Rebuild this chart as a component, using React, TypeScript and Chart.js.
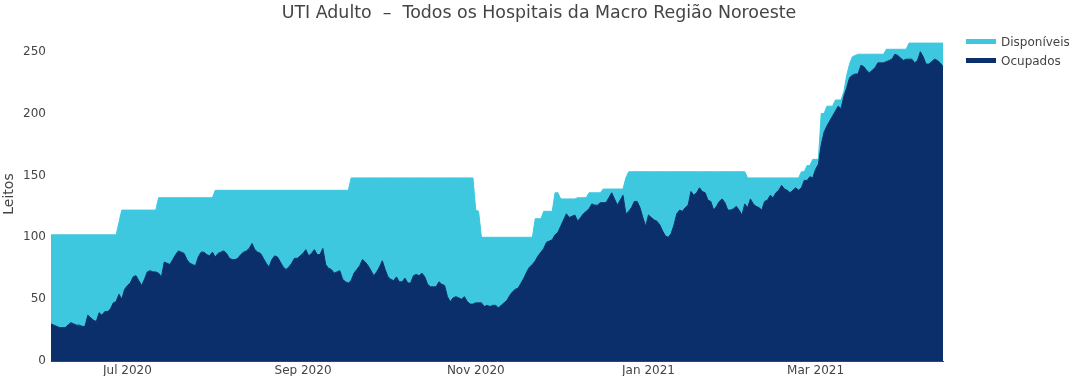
import React, { useEffect, useRef } from 'react';
import Chart from 'chart.js/auto';

// First day of the series (one value per day)
const startDate = '2020-06-04';

// Total de leitos (top of the stacked area)
const leitosTotais = [
  102, 102, 102, 102, 102, 102, 102, 102, 102, 102,
  102, 102, 102, 102, 102, 102, 102, 102, 102, 102,
  102, 102, 102, 102, 112, 122, 122, 122, 122, 122,
  122, 122, 122, 122, 122, 122, 122, 122, 132, 132,
  132, 132, 132, 132, 132, 132, 132, 132, 132, 132,
  132, 132, 132, 132, 132, 132, 132, 132, 138, 138,
  138, 138, 138, 138, 138, 138, 138, 138, 138, 138,
  138, 138, 138, 138, 138, 138, 138, 138, 138, 138,
  138, 138, 138, 138, 138, 138, 138, 138, 138, 138,
  138, 138, 138, 138, 138, 138, 138, 138, 138, 138,
  138, 138, 138, 138, 138, 138, 148, 148, 148, 148,
  148, 148, 148, 148, 148, 148, 148, 148, 148, 148,
  148, 148, 148, 148, 148, 148, 148, 148, 148, 148,
  148, 148, 148, 148, 148, 148, 148, 148, 148, 148,
  148, 148, 148, 148, 148, 148, 148, 148, 148, 148,
  122, 121, 100, 100, 100, 100, 100, 100, 100, 100,
  100, 100, 100, 100, 100, 100, 100, 100, 100, 100,
  100, 115, 115, 115, 121, 121, 121, 121, 136, 136,
  131, 131, 131, 131, 131, 131, 132, 132, 132, 132,
  136, 136, 136, 136, 136, 139, 139, 139, 139, 139,
  139, 139, 139, 148, 153, 153, 153, 153, 153, 153,
  153, 153, 153, 153, 153, 153, 153, 153, 153, 153,
  153, 153, 153, 153, 153, 153, 153, 153, 153, 153,
  153, 153, 153, 153, 153, 153, 153, 153, 153, 153,
  153, 153, 153, 153, 153, 153, 148, 148, 148, 148,
  148, 148, 148, 148, 148, 148, 148, 148, 148, 148,
  148, 148, 148, 148, 148, 153, 153, 158, 158, 163,
  163, 163, 200, 200, 206, 206, 206, 211, 211, 211,
  218, 231, 240, 246, 247, 248, 248, 248, 248, 248,
  248, 248, 248, 248, 248, 252, 252, 252, 252, 252,
  252, 252, 252, 257, 257, 257, 257, 257, 257, 257,
  257, 257, 257, 257, 257, 257,
];

// Leitos ocupados
const ocupados = [
  30, 29, 28, 27, 27, 27, 29, 31, 30, 29,
  29, 28, 28, 37, 35, 33, 32, 39, 37, 40,
  40, 42, 47, 48, 54, 50, 58, 61, 63, 68,
  69, 65, 61, 66, 72, 73, 72, 72, 71, 68,
  80, 79, 78, 82, 86, 89, 88, 87, 82, 79,
  78, 77, 84, 88, 88, 86, 85, 88, 84, 87,
  88, 89, 87, 83, 82, 82, 83, 86, 88, 89,
  91, 95, 90, 88, 87, 83, 79, 76, 82, 85,
  84, 80, 76, 74, 76, 79, 83, 83, 85, 87,
  90, 85, 87, 90, 86, 86, 91, 78, 75, 74,
  71, 72, 73, 66, 64, 63, 65, 71, 74, 77,
  82, 80, 77, 73, 69, 72, 76, 81, 74, 68,
  66, 65, 68, 64, 64, 67, 63, 63, 69, 70,
  69, 71, 68, 62, 60, 60, 60, 64, 62, 61,
  52, 48, 51, 52, 51, 50, 52, 48, 46, 46,
  47, 47, 47, 44, 45, 44, 45, 45, 43, 45,
  47, 49, 53, 56, 58, 59, 63, 67, 72, 76,
  78, 81, 85, 88, 91, 96, 97, 98, 102, 104,
  109, 114, 119, 116, 117, 118, 113, 116, 119, 121,
  123, 127, 126, 126, 128, 128, 128, 132, 136, 131,
  126, 130, 134, 119, 121, 124, 129, 129, 124, 116,
  109, 118, 116, 114, 113, 110, 105, 101, 100, 103,
  110, 119, 122, 121, 124, 126, 137, 134, 136, 140,
  137, 136, 130, 129, 122, 125, 129, 131, 128, 122,
  122, 123, 125, 122, 118, 127, 124, 131, 127, 125,
  124, 122, 129, 130, 134, 132, 136, 138, 142, 139,
  138, 136, 138, 140, 138, 140, 146, 146, 149, 148,
  155, 159, 175, 185, 190, 194, 198, 202, 206, 204,
  214, 221, 229, 231, 232, 232, 239, 238, 235, 233,
  235, 237, 241, 241, 241, 242, 243, 244, 248, 247,
  245, 243, 244, 244, 244, 241, 243, 250, 246, 240,
  240, 242, 244, 243, 241, 238,
];

const tickDates = ['2020-07-01', '2020-09-01', '2020-11-01', '2021-01-01', '2021-03-01'];
const tickLabels = ['Jul 2020', 'Sep 2020', 'Nov 2020', 'Jan 2021', 'Mar 2021'];
const yTicks = [0, 50, 100, 150, 200, 250];
const seriesNames = ['Disponíveis', 'Ocupados'];
const titleText = 'UTI Adulto  \u2013  Todos os Hospitais da Macro Região Noroeste';
const yTitle = 'Leitos';

const COLOR_DISP = '#3dc8e0';
const COLOR_OCUP = '#0b2f6b';
const TEXT = '#444444';
const FONT = '"DejaVu Sans", verdana, arial, sans-serif';

function buildDates(start: string, n: number): string[] {
  const base = Date.parse(start + 'T00:00:00Z');
  const out: string[] = [];
  for (let i = 0; i < n; i++) out.push(new Date(base + i * 86400000).toISOString().slice(0, 10));
  return out;
}

export default function App() {
  const ref = useRef<HTMLCanvasElement | null>(null);

  useEffect(() => {
    document.body.style.margin = '0';
    const canvas = ref.current;
    if (!canvas) return;
    const labels = buildDates(startDate, ocupados.length);
    const disponiveis = ocupados.map((v, i) => leitosTotais[i] - v);

    const chart = new Chart(canvas, {
      type: 'line',
      data: {
        labels,
        datasets: [
          {
            label: seriesNames[1],
            data: ocupados,
            backgroundColor: COLOR_OCUP,
            borderColor: COLOR_OCUP,
            borderWidth: 1,
            fill: 'origin',
            pointRadius: 0,
            tension: 0,
          },
          {
            label: seriesNames[0],
            data: disponiveis,
            backgroundColor: COLOR_DISP,
            borderColor: COLOR_DISP,
            borderWidth: 1,
            fill: '-1',
            pointRadius: 0,
            tension: 0,
          },
        ],
      },
      options: {
        responsive: false,
        animation: false,
        devicePixelRatio: 1,
        layout: { padding: { left: 0, right: 135, top: 27, bottom: 0 } },
        plugins: {
          legend: { display: false },
          tooltip: { enabled: false },
          title: { display: false },
        },
        scales: {
          x: {
            type: 'category',
            offset: false,
            z: 1,
            grid: { display: false, drawTicks: false },
            border: { display: true, color: TEXT, width: 1 },
            ticks: {
              autoSkip: false,
              maxRotation: 0,
              minRotation: 0,
              padding: 3,
              color: TEXT,
              font: { family: FONT, size: 12 },
              callback: (v: any) => {
                const idx = tickDates.indexOf(labels[Number(v)]);
                return idx >= 0 ? tickLabels[idx] : '';
              },
            },
            afterBuildTicks: (scale: any) => {
              scale.ticks = tickDates
                .map((d) => labels.indexOf(d))
                .filter((i) => i >= 0)
                .map((i) => ({ value: i }));
            },
            afterFit: (scale: any) => {
              scale.height = 15;
            },
          },
          y: {
            stacked: true,
            min: 0,
            max: 270,
            grid: { display: false, drawTicks: false },
            border: { display: false },
            afterBuildTicks: (scale: any) => {
              scale.ticks = yTicks.map((v) => ({ value: v }));
            },
            ticks: {
              padding: 5,
              color: TEXT,
              font: { family: FONT, size: 12 },
            },
            title: {
              display: true,
              text: yTitle,
              color: TEXT,
              font: { family: FONT, size: 14, lineHeight: 1.2 },
              padding: { top: 1, bottom: 0 },
            },
            afterFit: (scale: any) => {
              scale.width = 51;
            },
          },
        },
      },
    });
    return () => chart.destroy();
  }, []);

  const legendItems = [
    { name: seriesNames[0], color: COLOR_DISP, top: 39 },
    { name: seriesNames[1], color: COLOR_OCUP, top: 58 },
  ];

  return (
    <div style={{ position: 'relative', width: 1078, height: 376, background: '#fff', overflow: 'hidden' }}>
      <canvas ref={ref} width={1078} height={376} style={{ width: 1078, height: 376, display: 'block' }} />
      <div
        style={{
          position: 'absolute',
          left: 0,
          top: 2,
          width: 1078,
          height: 20,
          lineHeight: '20px',
          textAlign: 'center',
          fontFamily: FONT,
          fontSize: 17.4,
          color: TEXT,
          whiteSpace: 'pre',
        }}
      >
        {titleText}
      </div>
      {legendItems.map((it) => (
        <div key={it.name}>
          <div
            style={{
              position: 'absolute',
              left: 966,
              top: it.top,
              width: 30,
              height: 5,
              background: it.color,
            }}
          />
          <div
            style={{
              position: 'absolute',
              left: 1001,
              top: it.top + 2.5 - 9,
              height: 18,
              lineHeight: '18px',
              fontFamily: FONT,
              fontSize: 12,
              color: TEXT,
              whiteSpace: 'nowrap',
            }}
          >
            {it.name}
          </div>
        </div>
      ))}
    </div>
  );
}
